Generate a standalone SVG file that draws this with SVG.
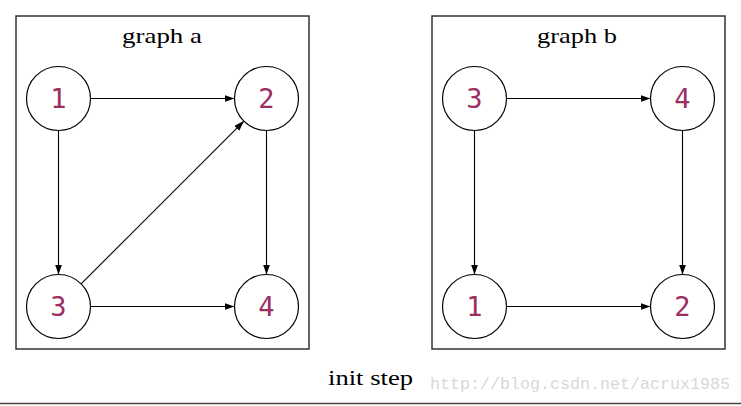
<svg xmlns="http://www.w3.org/2000/svg" width="741" height="406" viewBox="0 0 741 406">
<style>
.cluster{fill:none;stroke:#333;stroke-width:1.5}
.node circle{fill:#fff;stroke:#000;stroke-width:1.2}
.node text{font-family:"DejaVu Sans Mono","Liberation Mono",monospace;font-size:27px;fill:#9c2f5f;text-anchor:middle}
.title{font-family:"Liberation Serif","Times New Roman",serif;font-size:21px;fill:#000;text-anchor:middle}
.edges line{stroke:#000;stroke-width:1.1;marker-end:url(#arr)}
.wm{font-family:"Liberation Mono","DejaVu Sans Mono",monospace;font-size:16.6px;fill:#d8d8d8}
</style>
<defs>
<marker id="arr" markerUnits="userSpaceOnUse" markerWidth="11" markerHeight="8" refX="10" refY="3.5" orient="auto">
<path d="M0,0 L10,3.5 L0,7 z" fill="#000"/>
</marker>
</defs>
<rect width="741" height="406" fill="#fff"/>
<g id="cluster_a">
<rect class="cluster" x="16" y="16" width="293" height="333"/>
<text class="title" x="162" y="43" textLength="80" lengthAdjust="spacingAndGlyphs">graph a</text>
</g>
<g id="cluster_b">
<rect class="cluster" x="432" y="16" width="293" height="333"/>
<text class="title" x="577" y="43" textLength="80" lengthAdjust="spacingAndGlyphs">graph b</text>
</g>
<g class="edges" id="edges">
<line x1="90.5" y1="98.5" x2="234.5" y2="98.5"/>
<line x1="58.5" y1="130.5" x2="58.5" y2="274.5"/>
<line x1="266.5" y1="130.5" x2="266.5" y2="274.5"/>
<line x1="90.5" y1="306.5" x2="234.5" y2="306.5"/>
<line x1="81.1" y1="283.9" x2="243.9" y2="121.1"/>
<line x1="506.5" y1="98.5" x2="650.5" y2="98.5"/>
<line x1="474.5" y1="130.5" x2="474.5" y2="274.5"/>
<line x1="682.5" y1="130.5" x2="682.5" y2="274.5"/>
<line x1="506.5" y1="306.5" x2="650.5" y2="306.5"/>
</g>
<g class="node" id="a1"><circle cx="58.5" cy="98.5" r="32"/><text x="58.5" y="108">1</text></g>
<g class="node" id="a2"><circle cx="266.5" cy="98.5" r="32"/><text x="266.5" y="108">2</text></g>
<g class="node" id="a3"><circle cx="58.5" cy="306.5" r="32"/><text x="58.5" y="316">3</text></g>
<g class="node" id="a4"><circle cx="266.5" cy="306.5" r="32"/><text x="266.5" y="316">4</text></g>
<g class="node" id="b3"><circle cx="474.5" cy="98.5" r="32"/><text x="474.5" y="108">3</text></g>
<g class="node" id="b4"><circle cx="682.5" cy="98.5" r="32"/><text x="682.5" y="108">4</text></g>
<g class="node" id="b1"><circle cx="474.5" cy="306.5" r="32"/><text x="474.5" y="316">1</text></g>
<g class="node" id="b2"><circle cx="682.5" cy="306.5" r="32"/><text x="682.5" y="316">2</text></g>
<text class="title" x="370.5" y="385" textLength="85" lengthAdjust="spacingAndGlyphs" style="font-size:22px">init step</text>
<text class="wm" x="430" y="389" textLength="300" lengthAdjust="spacingAndGlyphs">http://blog.csdn.net/acrux1985</text>
<line x1="0" y1="403.5" x2="741" y2="403.5" stroke="#444" stroke-width="1.5"/>
</svg>
